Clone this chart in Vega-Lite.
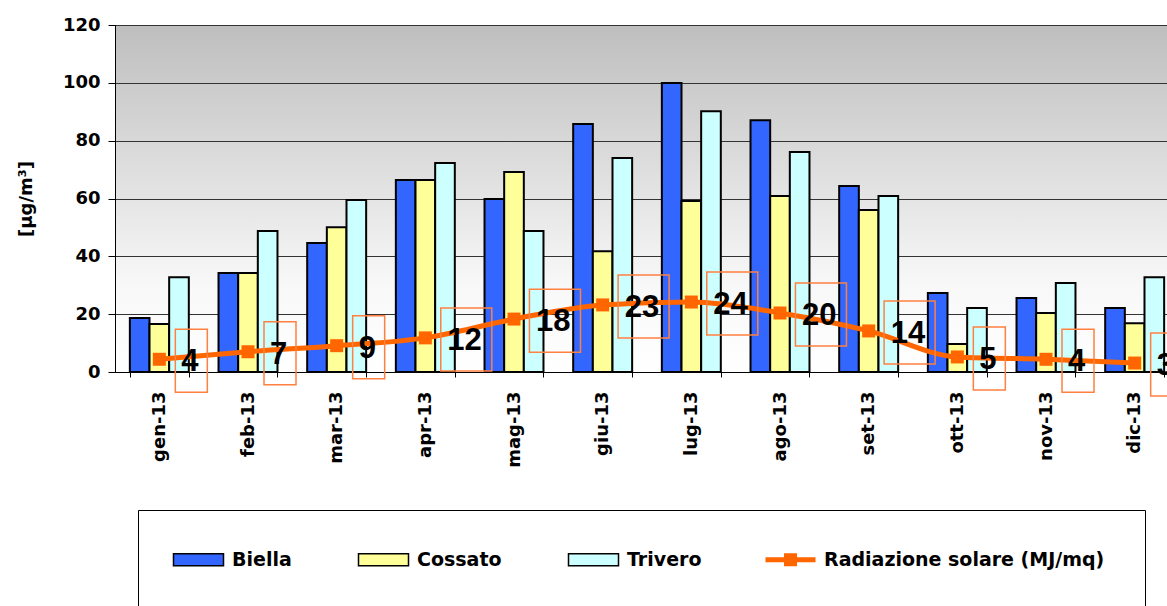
{
  "$schema": "https://vega.github.io/schema/vega-lite/v6.json",
  "width": 1052,
  "height": 347,
  "autosize": {"type": "none"},
  "padding": {"left": 115, "top": 25, "right": 0, "bottom": 234},
  "background": "white",
  "config": {
    "font": "DejaVu Sans",
    "view": {
      "fill": {"gradient": "linear", "x1": 0, "y1": 0, "x2": 0, "y2": 1, "stops": [{"offset": 0, "color": "#BEBEBE"}, {"offset": 0.75, "color": "#F8F8F8"}, {"offset": 1, "color": "#FFFFFF"}]},
      "stroke": "#000",
      "strokeWidth": 1
    },
    "axisY": {
      "labelFont": "DejaVu Sans", "labelFontSize": 18, "labelFontWeight": "bold", "labelColor": "#000",
      "tickColor": "#000", "tickSize": 7, "domainColor": "#000", "gridColor": "#333", "gridOpacity": 1,
      "labelPadding": 8, "titleFont": "DejaVu Sans", "titleFontSize": 18, "titleFontWeight": "bold", "titleColor": "#000", "titlePadding": 27
    },
    "axisX": {
      "labelFont": "DejaVu Sans", "labelAngle": 270, "labelFontSize": 18, "labelFontWeight": "bold", "labelColor": "#000",
      "tickBand": "extent", "tickSize": 5, "tickColor": "#000", "domainColor": "#000",
      "labelPadding": 14, "grid": false, "title": null
    }
  },
  "data": {
    "values": [
      {"month": "gen-13", "Biella": 18.7, "Cossato": 16.6, "Trivero": 32.8, "rad": 4.4},
      {"month": "feb-13", "Biella": 34.2, "Cossato": 34.2, "Trivero": 48.8, "rad": 7.0},
      {"month": "mar-13", "Biella": 44.6, "Cossato": 50.1, "Trivero": 59.5, "rad": 9.1},
      {"month": "apr-13", "Biella": 66.4, "Cossato": 66.4, "Trivero": 72.3, "rad": 11.8},
      {"month": "mag-13", "Biella": 59.8, "Cossato": 69.2, "Trivero": 48.8, "rad": 18.3},
      {"month": "giu-13", "Biella": 85.8, "Cossato": 41.8, "Trivero": 74.0, "rad": 23.2},
      {"month": "lug-13", "Biella": 99.9, "Cossato": 59.1, "Trivero": 90.2, "rad": 24.2},
      {"month": "ago-13", "Biella": 87.1, "Cossato": 60.9, "Trivero": 76.1, "rad": 20.4},
      {"month": "set-13", "Biella": 64.3, "Cossato": 56.0, "Trivero": 60.9, "rad": 14.2},
      {"month": "ott-13", "Biella": 27.3, "Cossato": 9.7, "Trivero": 22.1, "rad": 5.2},
      {"month": "nov-13", "Biella": 25.6, "Cossato": 20.4, "Trivero": 30.8, "rad": 4.4},
      {"month": "dic-13", "Biella": 22.1, "Cossato": 16.9, "Trivero": 32.8, "rad": 3.1}
    ]
  },
  "encoding": {
    "x": {
      "field": "month", "type": "nominal", "sort": null,
      "scale": {"range": [0, 1064], "paddingInner": 0.335, "paddingOuter": 0.1675}
    }
  },
  "layer": [
    {
      "transform": [{"fold": ["Biella", "Cossato", "Trivero"], "as": ["series", "value"]}],
      "mark": {"type": "bar", "stroke": "#000", "strokeWidth": 2},
      "encoding": {
        "xOffset": {"field": "series", "type": "nominal", "scale": {"paddingInner": 0, "paddingOuter": 0}},
        "y": {"field": "value", "type": "quantitative", "title": "[µg/m³]", "scale": {"domain": [0, 120]}, "axis": {"values": [0, 20, 40, 60, 80, 100, 120]}},
        "color": {
          "field": "series", "type": "nominal",
          "scale": {"domain": ["Biella", "Cossato", "Trivero", "Radiazione solare (MJ/mq)"], "range": ["#3366FF", "#FFFF99", "#CCFFFF", "#FF6600"]},
          "legend": {
            "orient": "none", "legendX": 23, "legendY": 485, "direction": "horizontal", "title": null,
            "symbolType": "M-0.56,-0.24H1.44V0.24H-0.56Z", "symbolSize": 2500, "symbolStrokeColor": "#000", "symbolStrokeWidth": 1.5,
            "labelFont": "DejaVu Sans", "labelFontSize": 19, "labelFontWeight": "bold", "labelColor": "#000", "labelOffset": 35, "labelLimit": 400,
            "columnPadding": 63, "padding": 40, "strokeColor": "#000",
            "encode": {
              "symbols": {
                "update": {
                  "shape": {"signal": "datum.value === 'Radiazione solare (MJ/mq)' ? 'M-0.56,-0.1H1.44V0.1H-0.56ZM0.18,-0.26H0.7V0.26H0.18Z' : 'M-0.56,-0.24H1.44V0.24H-0.56Z'"},
                  "strokeWidth": {"signal": "datum.value === 'Radiazione solare (MJ/mq)' ? 0 : 1.5"},
                  "opacity": {"value": 1}
                }
              }
            }
          }
        }
      }
    },
    {
      "mark": {"type": "line", "interpolate": "monotone", "strokeWidth": 5, "color": "#FF6600", "point": {"shape": "square", "size": 169, "filled": true, "opacity": 1, "color": "#FF6600"}},
      "encoding": {
        "y": {"field": "rad", "type": "quantitative", "title": "[µg/m³]", "scale": {"domain": [0, 120]}}
      }
    },
    {
      "transform": [{"filter": "datum.rad < 9.5"}],
      "mark": {"type": "point", "shape": "M0.508,-0.95H1.524V1.05H0.508Z", "size": 3969, "filled": false, "color": "#FF8040", "strokeWidth": 1.5, "opacity": 1},
      "encoding": {
        "y": {"field": "rad", "type": "quantitative", "title": "[µg/m³]", "scale": {"domain": [0, 120]}}
      }
    },
    {
      "transform": [{"filter": "datum.rad >= 9.5"}],
      "mark": {"type": "point", "shape": "M0.49,-0.95H2.11V1.05H0.49Z", "size": 3969, "filled": false, "color": "#FF8040", "strokeWidth": 1.5, "opacity": 1},
      "encoding": {
        "y": {"field": "rad", "type": "quantitative", "title": "[µg/m³]", "scale": {"domain": [0, 120]}}
      }
    },
    {
      "mark": {"type": "text", "font": "Liberation Sans", "align": "left", "baseline": "middle", "dx": 22, "dy": 3, "fontSize": 31, "fontWeight": "bold", "color": "#000"},
      "encoding": {
        "y": {"field": "rad", "type": "quantitative", "title": "[µg/m³]", "scale": {"domain": [0, 120]}},
        "text": {"field": "rad", "type": "quantitative", "format": ".0f"}
      }
    }
  ]
}
